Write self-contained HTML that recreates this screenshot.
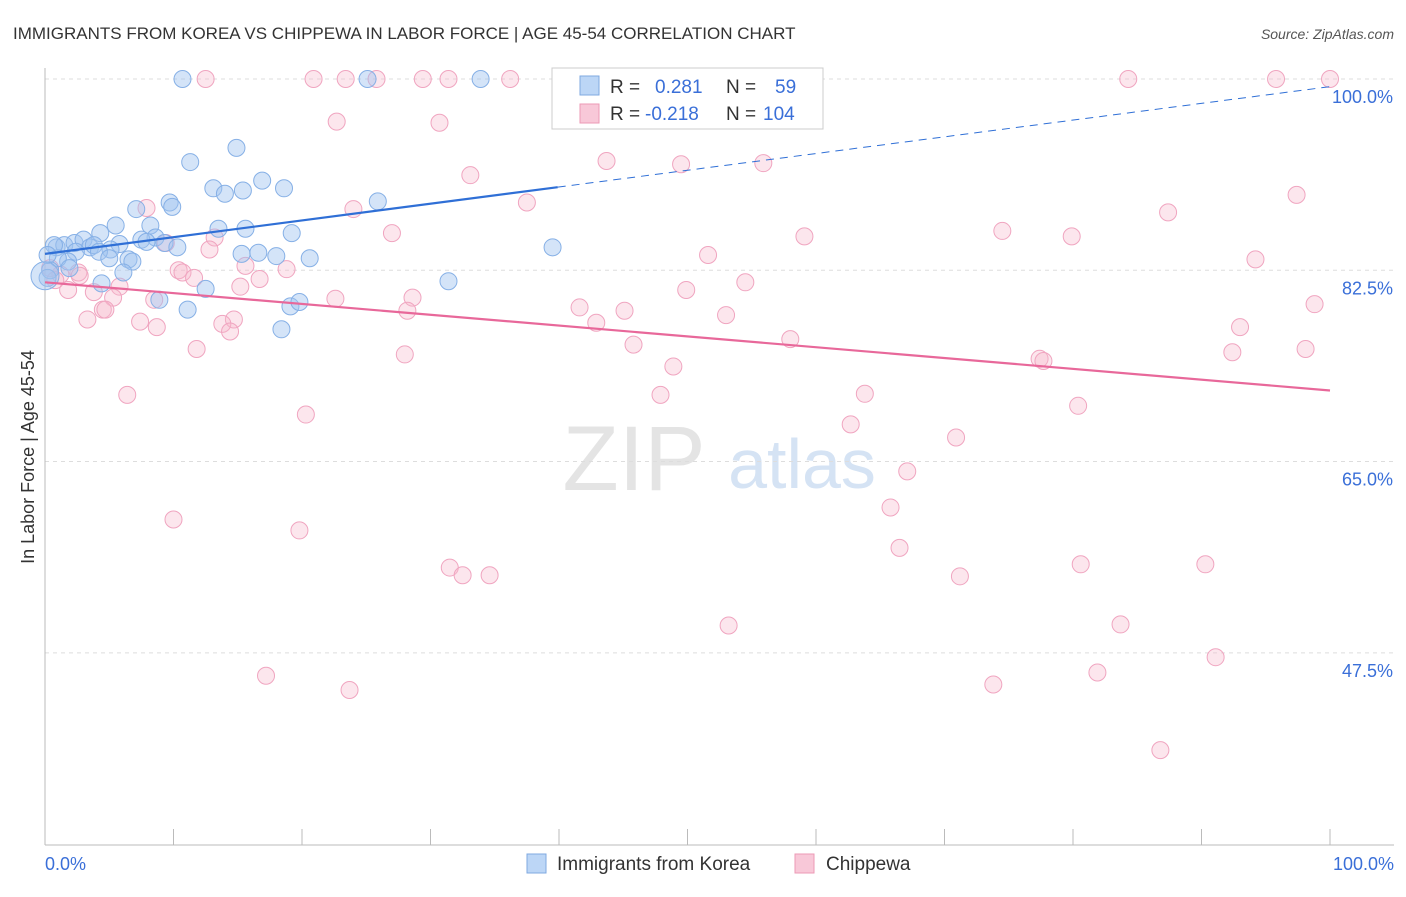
<!DOCTYPE html>
<html><head><meta charset="utf-8"><style>
body{margin:0;background:#fff;font-family:"Liberation Sans",sans-serif;}
svg text{font-family:"Liberation Sans",sans-serif;}
</style></head><body>
<svg id="chart" width="1406" height="892" xmlns="http://www.w3.org/2000/svg">
<text x="13" y="39" font-size="17" fill="#333">IMMIGRANTS FROM KOREA VS CHIPPEWA IN LABOR FORCE | AGE 45-54 CORRELATION CHART</text>
<text x="1394" y="39" font-size="14" fill="#555" font-style="italic" text-anchor="end">Source: ZipAtlas.com</text>
<g>
<text x="634" y="490" font-size="92" fill="#e4e4e4" font-family="Liberation Serif" text-anchor="middle">ZIP</text>
<text x="802" y="488" font-size="70" fill="#d5e3f4" text-anchor="middle">atlas</text>
</g>
<g id="grid"></g>
<g id="axes"></g>
<g id="marks"></g>
<g>
<rect x="552" y="68" width="271" height="61" fill="#fff" stroke="#ccc"/>
<rect x="580" y="76" width="19" height="19" fill="#bcd6f6" stroke="#7fa9e0"/>
<text x="610" y="93" font-size="19" fill="#333">R = </text><text x="655" y="93" font-size="19" fill="#3a6fd8">0.281</text>
<text x="726" y="93" font-size="19" fill="#333">N = </text><text x="775" y="93" font-size="19" fill="#3a6fd8">59</text>
<rect x="580" y="104" width="19" height="19" fill="#f8c8d8" stroke="#ec9ab6"/>
<text x="610" y="120" font-size="19" fill="#333">R = </text><text x="645" y="120" font-size="19" fill="#3a6fd8">-0.218</text>
<text x="726" y="120" font-size="19" fill="#333">N = </text><text x="763" y="120" font-size="19" fill="#3a6fd8">104</text>
</g>
<g>
<rect x="527" y="854" width="19" height="19" fill="#bcd6f6" stroke="#7fa9e0"/>
<text x="557" y="870" font-size="19" fill="#333">Immigrants from Korea</text>
<rect x="795" y="854" width="19" height="19" fill="#f8c8d8" stroke="#ec9ab6"/>
<text x="826" y="870" font-size="19" fill="#333">Chippewa</text>
</g>
<text transform="translate(34,457) rotate(-90)" font-size="18" fill="#333" text-anchor="middle">In Labor Force | Age 45-54</text>
<text x="45" y="870" font-size="18" fill="#3a6fd8">0.0%</text>
<text x="1394" y="870" font-size="18" fill="#3a6fd8" text-anchor="end">100.0%</text>
</svg>
<script>
const yTicks=[100,82.5,65,47.5];
const yTickLabels=["100.0%","82.5%","65.0%","47.5%"];
const xTicks=[0,10,20,30,40,50,60,70,80,90,100];
const koreaX=[10.7,25.1,33.9,11.3,14.9,13.1,14.0,15.4,16.9,18.6,25.9,9.7,9.9,7.1,8.2,5.5,4.3,13.5,15.6,19.2,8.6,7.5,9.3,10.3,7.9,5.8,5.1,0.9,1.5,2.3,3.0,3.5,3.8,4.2,5.0,6.5,6.8,6.1,2.4,1.8,1.0,0.4,0.2,1.9,4.4,12.5,8.9,11.1,19.1,19.8,18.4,15.3,16.6,18.0,20.6,31.4,39.5,0.7,0.2];
const koreaY=[100,100,100,92.4,93.7,90.0,89.5,89.8,90.7,90.0,88.8,88.7,88.3,88.1,86.6,86.6,85.9,86.3,86.3,85.9,85.5,85.3,85.0,84.6,85.1,84.9,84.4,84.6,84.8,85.0,85.3,84.6,84.8,84.2,83.6,83.5,83.3,82.3,84.2,83.3,83.6,82.5,81.8,82.7,81.3,80.8,79.8,78.9,79.2,79.6,77.1,84.0,84.1,83.8,83.6,81.5,84.6,84.8,83.9];
const chipX=[12.5,20.9,23.4,25.8,29.4,31.4,36.2,46.3,84.3,95.8,100,22.7,30.7,43.7,49.5,55.9,33.1,97.4,37.5,24.0,87.4,7.9,27.0,74.5,79.9,59.1,13.2,9.4,12.8,51.6,94.2,15.6,18.8,10.4,10.7,11.6,16.7,54.5,15.2,49.9,1.2,2.6,1.8,3.8,5.8,5.3,8.5,22.6,28.6,41.6,45.1,98.8,4.5,4.7,3.3,7.4,8.7,53.0,28.2,14.7,13.8,14.4,42.9,93.0,45.8,58.0,11.8,28.0,92.4,98.1,77.4,77.7,48.9,6.4,47.9,63.8,80.4,20.3,62.7,70.9,67.1,10.0,65.8,19.8,66.5,31.5,32.5,34.6,71.2,80.6,90.3,53.2,83.7,91.1,17.2,23.7,73.8,81.9,86.8,0.4,0.8,2.7];
const chipY=[100,100,100,100,100,100,100,100,100,100,100,96.1,96.0,92.5,92.2,92.3,91.2,89.4,88.7,88.1,87.8,88.2,85.9,86.1,85.6,85.6,85.5,85.0,84.4,83.9,83.5,82.9,82.6,82.5,82.3,81.8,81.7,81.4,81.0,80.7,82.1,82.3,80.7,80.5,81.0,80.0,79.8,79.9,80.0,79.1,78.8,79.4,78.9,78.9,78.0,77.8,77.3,78.4,78.8,78.0,77.6,76.9,77.7,77.3,75.7,76.2,75.3,74.8,75.0,75.3,74.4,74.2,73.7,71.1,71.1,71.2,70.1,69.3,68.4,67.2,64.1,59.7,60.8,58.7,57.1,55.3,54.6,54.6,54.5,55.6,55.6,50.0,50.1,47.1,45.4,44.1,44.6,45.7,38.6,82.7,81.6,82.0];
const koreaTrend=[84.0,99.3];
const chipTrend=[81.4,71.5];
const NS="http://www.w3.org/2000/svg";
const X=v=>45+v*12.85;
const Y=v=>79+(100-v)*10.93;
function mk(tag,attrs,parent){const e=document.createElementNS(NS,tag);for(const k in attrs)e.setAttribute(k,attrs[k]);parent.appendChild(e);return e;}
const grid=document.getElementById('grid'),axes=document.getElementById('axes'),marks=document.getElementById('marks');
yTicks.forEach((t,i)=>{
  const l=mk('line',{x1:45,x2:1394,y1:Y(t),y2:Y(t),stroke:'#ddd','stroke-dasharray':'4,4'},grid);
  
  
  const tx=mk('text',{x:1393,y:Y(t)+24,'font-size':18,fill:'#3a6fd8','text-anchor':'end'},grid);
  tx.textContent=yTickLabels[i];
  
  
});
const ya=mk('line',{x1:45,x2:45,y1:68,y2:845,stroke:'#bbb'},axes);


const xa=mk('line',{x1:45,x2:1394,y1:845,y2:845,stroke:'#bbb'},axes);


xTicks.forEach(t=>{
  const l=mk('line',{x1:X(t),x2:X(t),y1:829,y2:845,stroke:'#bbb'},axes);
  
  
});
function dots(xs,ys,fill,stroke,name){
  xs.forEach((x,i)=>{
    const c=mk('circle',{cx:X(x),cy:Y(ys[i]),r:8.5,fill:fill,stroke:stroke,'stroke-width':1},marks);
    
    
  });
}
dots(chipX,chipY,'rgba(246,182,204,0.35)','#f0a5c0','chippewa-point');
dots(koreaX,koreaY,'rgba(160,196,240,0.45)','#86b0e6','korea-point');
const bc=mk('circle',{cx:X(0),cy:Y(82),r:14,fill:'rgba(160,196,240,0.45)',stroke:'#86b0e6'},marks);


const ky=x=>koreaTrend[0]+(koreaTrend[1]-koreaTrend[0])*x/100;
const t1=mk('line',{x1:X(0),y1:Y(ky(0)),x2:X(39.9),y2:Y(ky(39.9)),stroke:'#2f6fd6','stroke-width':2.2},marks);


const t2=mk('line',{x1:X(39.9),y1:Y(ky(39.9)),x2:X(100),y2:Y(ky(100)),stroke:'#2f6fd6','stroke-width':1,'stroke-dasharray':'8,6'},marks);


const t3=mk('line',{x1:X(0),y1:Y(chipTrend[0]),x2:X(100),y2:Y(chipTrend[1]),stroke:'#e8689a','stroke-width':2.2},marks);


</script>
</body></html>
